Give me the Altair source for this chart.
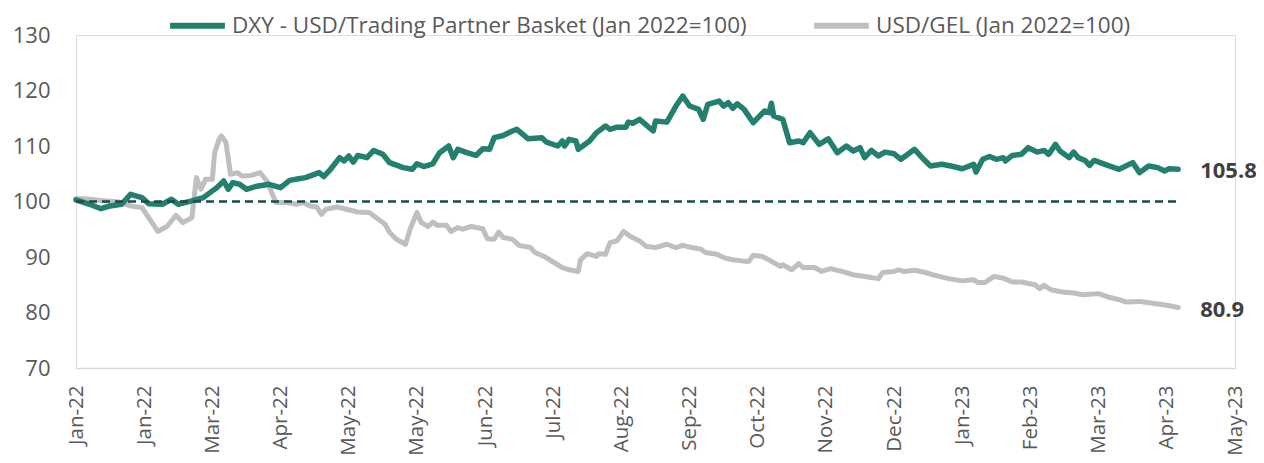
import altair as alt
import pandas as pd

# ---- data (days since 2022-01-01, index value) ----
dxy_name = "DXY - USD/Trading Partner Basket (Jan 2022=100)"
gel_name = "USD/GEL (Jan 2022=100)"

dxy_day = [0,6,11,15,20,24,29,32,38,42, 45,51,56,62,65,67,69,72,75,79,
           85,90,94,98,101,107,109,112,116,118, 120,122,124,128,131,135,138,144,148,150,
           153,157,160,164,166,168,172,176,179,182, 184,188,192,194,199,205,207,212,214,215,
           217,220,221,226,229,233,235,238,242,243, 245,248,254,255,260,264,267,270,274,276,
           278,283,285,287,289,291,294,298,303,305, 306,307,311,314,318,320,323,327,331,335,
           339,342,345,347,350,353,356,360,363,369, 373,376,381,385,390,395,396,399,402,405,
           408,409,412,416,419,423,426,428,431,433, 437,439,441,444,446,448,454,459,465,468,
           472,476,479,481,485]
dxy_val = [100.3,99.5,98.7,99.2,99.5,101.3,100.7,99.6,99.5,100.4, 99.5,100.1,100.7,102.5,103.7,102.2,103.4,103.1,102.2,102.7,
           103.1,102.5,103.8,104.1,104.3,105.2,104.5,105.8,107.9,107.3, 108.2,107.1,108.3,107.9,109.2,108.5,107.0,106.1,105.8,106.8,
           106.3,106.8,108.8,110.0,107.9,109.4,108.8,108.3,109.5,109.4, 111.5,111.9,112.7,113.0,111.3,111.5,110.7,110.0,110.9,110.0,
           111.2,110.9,109.4,110.9,112.4,113.6,113.0,113.4,113.4,114.3, 114.1,114.8,112.7,114.5,114.3,117.2,119.0,117.2,116.6,114.8,
           117.5,118.1,117.2,117.8,116.8,117.6,116.6,114.2,116.3,116.0, 117.7,115.4,114.8,110.6,110.9,110.6,112.4,110.3,111.3,108.8,
           110.0,109.1,109.7,107.9,109.2,108.2,108.9,108.6,107.6,109.4, 107.6,106.4,106.7,106.4,105.9,106.7,105.3,107.6,108.1,107.6,
           107.9,107.3,108.3,108.5,109.7,108.9,109.2,108.5,110.3,109.1, 107.9,108.9,107.9,107.4,106.5,107.4,106.5,105.8,107.0,105.2,
           106.4,106.1,105.5,105.9,105.8]

gel_day = [0,4,11,19,24,29,32,36,40,44, 47,51,53,55,57,60,61,63,64,66,
           68,71,73,77,81,84,88,93,97,100, 103,106,108,110,115,119,124,129,132,136,
           138,141,145,147,150,152,155,157,159,163, 165,168,170,174,179,181,184,186,188,192,
           195,200,202,206,210,214,217,221,222,225, 229,230,233,235,238,241,244,248,251,255,
           260,264,267,271,275,277,282,285,289,293, 296,298,302,307,310,311,315,318,320,325,
           328,332,337,342,347,353,355,360,362,364, 369,373,378,384,390,395,397,400,404,408,
           412,416,422,424,426,429,434,439,443,450, 454,459,462,468,473,480,485]
gel_val = [100.5,100.5,100.2,99.9,99.2,98.9,97.1,94.6,95.5,97.5, 96.2,97.1,104.3,102.2,104.0,104.0,108.8,111.2,111.8,110.6,
           104.9,105.2,104.6,104.7,105.2,103.7,99.8,99.8,99.5,99.8, 99.2,99.0,97.7,98.6,99.0,98.6,98.1,98.0,97.1,95.9,
           94.4,93.2,92.3,95.0,98.0,96.2,95.5,96.3,95.7,95.7, 94.6,95.3,95.0,95.5,95.1,93.3,93.2,94.5,93.5,93.2,
           92.1,91.7,90.8,90.1,89.1,88.1,87.7,87.4,89.5,90.6, 90.1,90.6,90.5,92.6,92.9,94.6,93.7,92.9,91.9,91.7,
           92.3,91.7,92.1,91.7,91.4,90.8,90.5,89.9,89.5,89.3, 89.2,90.3,90.1,89.0,88.3,88.6,87.7,88.8,88.1,88.1,
           87.4,87.9,87.4,86.8,86.5,86.1,87.2,87.4,87.7,87.4, 87.6,87.3,86.7,86.1,85.7,85.9,85.4,85.4,86.5,86.2,
           85.5,85.5,85.0,84.3,84.9,84.1,83.7,83.5,83.2,83.4, 82.8,82.3,81.9,82.0,81.7,81.3,80.9]

tick_dates = ["2022-01-01","2022-01-31","2022-03-02","2022-04-01","2022-05-01","2022-05-31",
              "2022-06-30","2022-07-30","2022-08-29","2022-09-28","2022-10-28","2022-11-27",
              "2022-12-27","2023-01-26","2023-02-25","2023-03-27","2023-04-26","2023-05-26"]
baseline = [100]
end_labels = ["105.8", "80.9"]

assert len(dxy_day) == len(dxy_val) and len(gel_day) == len(gel_val)

start = pd.Timestamp("2022-01-01")
def to_date(days):
    return [(start + pd.Timedelta(days=d)).strftime("%Y-%m-%d") for d in days]

def dt(s):
    y, m, d = map(int, s.split("-"))
    return alt.DateTime(year=y, month=m, date=d, utc=True)

df_dxy = pd.DataFrame({"date": to_date(dxy_day), "value": dxy_val, "series": dxy_name})
df_gel = pd.DataFrame({"date": to_date(gel_day), "value": gel_val, "series": gel_name})
df_rule = pd.DataFrame({"start": [df_dxy["date"].iloc[0]], "end": [df_dxy["date"].iloc[-1]], "v": baseline})
df_end = pd.DataFrame({
    "date": [df_dxy["date"].iloc[-1], df_gel["date"].iloc[-1]],
    "value": [dxy_val[-1], gel_val[-1]],
    "label": end_labels,
})

FONT = "Open Sans"
GREEN = "#24806E"
GRAY = "#BFBFBF"

xscale = alt.Scale(type="utc", domain=[dt(tick_dates[0]), dt(tick_dates[-1])])
yscale = alt.Scale(domain=[70, 130], nice=False, zero=False)

xaxis = alt.Axis(values=[dt(s) for s in tick_dates], format="%b-%y", labelAngle=-90,
                 labelFontSize=20.5, labelColor="#595959", labelFont=FONT,
                 domainColor="#D9D9D9", domainWidth=1.5, ticks=False, grid=False,
                 labelPadding=17, title=None, labelOverlap=False, labelFlush=False)
yaxis = alt.Axis(values=[70, 80, 90, 100, 110, 120, 130], domain=False, ticks=False, grid=False,
                 labelFontSize=22, labelColor="#595959", labelFont=FONT, labelPadding=26, title=None)

color = alt.Color("series:N",
                  scale=alt.Scale(domain=[dxy_name, gel_name], range=[GREEN, GRAY]),
                  legend=alt.Legend(title=None, orient="none", legendX=91, legendY=-40,
                                    direction="horizontal", symbolType="stroke",
                                    symbolSize=3000, symbolStrokeWidth=6,
                                    labelFontSize=22.5, labelFont=FONT, labelColor="#595959",
                                    labelLimit=1000, columnPadding=55, labelOffset=4))

gel_line = alt.Chart(df_gel).mark_line(strokeWidth=5, strokeCap="round", strokeJoin="round").encode(
    x=alt.X("date:T", scale=xscale, axis=xaxis),
    y=alt.Y("value:Q", scale=yscale, axis=yaxis),
    color=color,
)
dxy_line = alt.Chart(df_dxy).mark_line(strokeWidth=5.5, strokeCap="round", strokeJoin="round").encode(
    x=alt.X("date:T", scale=xscale),
    y=alt.Y("value:Q", scale=yscale),
    color=color,
)
rule = alt.Chart(df_rule).mark_rule(color="#1B4A4C", strokeWidth=2.5, strokeDash=[8, 5]).encode(
    x=alt.X("start:T", scale=xscale),
    x2="end:T",
    y=alt.Y("v:Q", scale=yscale),
)
labels = alt.Chart(df_end).mark_text(align="left", baseline="middle", dx=22, dy=2,
                                     fontSize=22, fontWeight="bold", font=FONT, color="#404040").encode(
    x=alt.X("date:T", scale=xscale),
    y=alt.Y("value:Q", scale=yscale),
    text="label:N",
)

chart = alt.layer(gel_line, dxy_line, rule, labels).properties(
    width=1159, height=333,
    autosize=alt.AutoSizeParams(type="none"),
    padding={"left": 68, "top": 27, "right": 21, "bottom": 87},
).configure_view(stroke=None).configure(background="white")

chart.save("out.html", embed_options={"renderer": "svg", "actions": False})
